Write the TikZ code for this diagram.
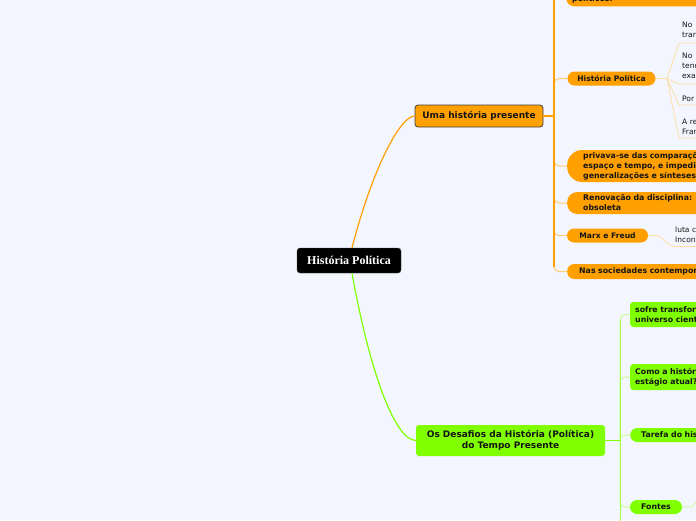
\documentclass[tikz,border=0pt]{standalone}
\usepackage{fontspec}
\setmainfont{DejaVu Sans}
\newfontfamily\rootfont{Liberation Serif}
\usetikzlibrary{positioning, shapes, arrows.meta, calc}
\definecolor{bgpage}{HTML}{F3F6FE}
\definecolor{topicor}{HTML}{FFA000}
\definecolor{topicgr}{HTML}{80FF00}
\definecolor{inkdark}{HTML}{141414}
\tikzset{
    root/.style={fill=black, draw=black!70, rounded corners=3pt, text=white,
        font=\rootfont\bfseries\fontsize{12}{14}\selectfont,
        minimum width=104pt, minimum height=25pt, inner sep=0pt},
    maintopic/.style={rounded corners=3pt, text=inkdark, align=center, inner sep=0pt,
        font=\bfseries\fontsize{9}{11}\selectfont},
    obox/.style={fill=topicor, text=inkdark, align=left, text width=150pt, inner ysep=1pt,
        font=\bfseries\fontsize{7.8}{10}\selectfont},
    gbox/.style={fill=topicgr, text=inkdark, align=left, text width=150pt, inner ysep=1pt,
        inner xsep=5pt, rounded corners=3pt, font=\bfseries\fontsize{7.8}{10}\selectfont},
    opill/.style={fill=topicor, text=inkdark, rounded corners=7pt, minimum height=14pt,
        inner sep=0pt, font=\bfseries\fontsize{7.6}{10}\selectfont},
    gpill/.style={fill=topicgr, text=inkdark, rounded corners=7pt, minimum height=14pt,
        inner sep=0pt, font=\bfseries\fontsize{7.8}{10}\selectfont},
    leaf/.style={anchor=south west, align=left, text width=80pt, inner xsep=3pt,
        inner ysep=3.5pt, text=inkdark, font=\fontsize{7.5}{10}\selectfont},
    ocurve/.style={draw=topicor, line width=1.2pt},
    gcurve/.style={draw=topicgr, line width=1.2pt},
    otrunkline/.style={draw=topicor, line width=1.1pt},
    gtrunkline/.style={draw=topicgr, line width=1.1pt},
    gtrunkthin/.style={draw=topicgr!75!white, line width=1pt},
    obranch/.style={draw=topicor!55!white, line width=1pt, rounded corners=5pt},
    gbranch/.style={draw=topicgr!45!white, line width=1pt, rounded corners=5pt},
    oleafline/.style={draw=topicor!35!white, line width=0.8pt},
    gleafline/.style={draw=topicgr!40!white, line width=0.8pt}
}

\begin{document}
\begin{tikzpicture}[x=1pt, y=-1pt]
    \fill[bgpage] (0,0) rectangle (696,520);
    \useasboundingbox (0,0) rectangle (696,520);
    \clip (0,0) rectangle (696,520);

    % central topic and the two main topics
    \node[root] (hp) at (349,260.5) {História Política};
    \node[maintopic, fill=topicor, draw=black!75, line width=0.8pt,
        minimum width=128pt, minimum height=22pt] (uma) at (479,116) {Uma história presente};
    \node[maintopic, fill=topicgr, minimum width=189pt, minimum height=31pt]
        (desafios) at (510.5,440.5) {Os Desafios da História (Política)\\do Tempo Presente};

    \draw[ocurve] ([xshift=3pt]hp.north) .. controls (372,170) and (400,116) .. (uma.west);
    \draw[gcurve] ([xshift=3pt]hp.south) .. controls (370,373) and (395,440) .. (desafios.west);

    % orange branch
    \coordinate (otrunk) at (554,116);
    \node[obox, anchor=south west, minimum height=24pt, rounded corners=8pt, inner xsep=6pt]
        (otop) at (566,6.5) {\vphantom{Ag}\\políticos.};
    \node[opill, minimum width=88pt] (hpol) at (611.5,78.5) {História Política};
    \node[obox, anchor=west, minimum height=32pt, rounded corners=15pt, inner xsep=16pt]
        (privava) at (567,166) {privava-se das comparações\\espaço e tempo, e impedia\\generalizações e sínteses};
    \node[obox, anchor=west, minimum height=22pt, rounded corners=10pt, inner xsep=16pt]
        (renov) at (567,203) {Renovação da disciplina:\\obsoleta};
    \node[opill, minimum width=81pt] (marx) at (607.5,235.5) {Marx e Freud};
    \node[obox, anchor=west, minimum height=15pt, rounded corners=7pt, inner xsep=12pt]
        (nas) at (567,271.5) {Nas sociedades contemporâneas};

    \foreach \kid in {otop, hpol, privava, renov, marx, nas}
        \draw[obranch] (otrunk) |- (\kid.west);
    \draw[otrunkline] (otrunk |- otop.west) -- ([yshift=5pt]otrunk |- nas.west);
    \draw[otrunkline] (uma.east) -- (otrunk);

    % leaves of Historia Politica
    \coordinate (hfan) at (667,78.5);
    \node[leaf] (n1) at (679,43) {No\\transformações};
    \node[leaf] (n2) at (679,84) {No\\tendências\\exaltação};
    \node[leaf] (n3) at (679,105) {Por};
    \node[leaf] (n4) at (679,138) {A revolução\\Francesa};
    \draw[oleafline] (hpol.east) -- (hfan);
    \foreach \kid in {n1, n2, n3, n4}
        \draw[oleafline] (hfan) -- (\kid.south west) -- (\kid.south east);

    % leaf of Marx e Freud
    \coordinate (mfan) at (658,235.5);
    \node[leaf] (luta) at (672,246.5) {luta contra\\Inconsciente};
    \draw[oleafline] (marx.east) -- (mfan) -- (luta.south west) -- (luta.south east);

    % green branch
    \coordinate (gtrunk) at (620,440.5);
    \coordinate (gbot) at (620,530);
    \node[gbox, anchor=west, minimum height=25pt] (sofre) at (630,314.5) {sofre transformações\\universo científico};
    \node[gbox, anchor=west, minimum height=26pt] (como) at (630,377) {Como a história\\estágio atual?};
    \node[gbox, anchor=west, minimum height=14pt, rounded corners=7pt, inner xsep=11pt, inner ysep=0pt]
        (tarefa) at (630,435) {Tarefa do historiador};
    \node[gpill, minimum width=52pt] (fontes) at (656,507) {Fontes};

    \foreach \kid in {sofre, como, tarefa, fontes}
        \draw[gbranch] (gtrunk) |- (\kid.west);
    \draw[gtrunkthin] ([yshift=-5pt]gtrunk |- sofre.west) -- (gbot);
    \draw[gtrunkline] (desafios.east) -- (gtrunk);

    % leaf of Fontes
    \coordinate (ffan) at (692,507);
    \coordinate (fnext) at (702,494);
    \draw[gleafline] (fontes.east) -- (ffan) -- (fnext);
\end{tikzpicture}
\end{document}
